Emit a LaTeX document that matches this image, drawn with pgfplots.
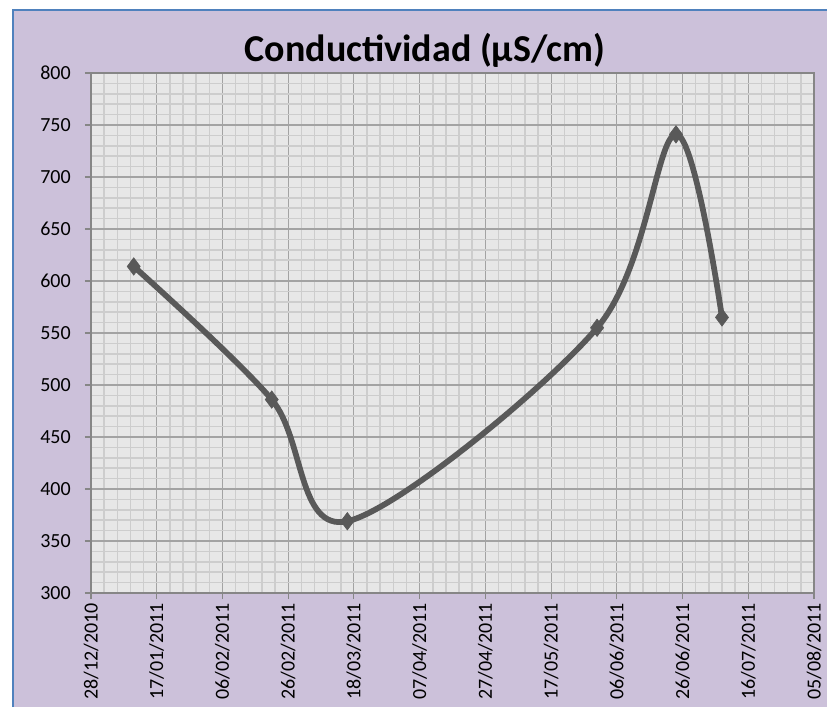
\documentclass[border=0pt]{standalone}
\usepackage{pgfplots}
\pgfplotsset{compat=1.18}
\usepackage{fontspec}
\setmainfont{Carlito}
\definecolor{lav}{HTML}{CCC1DA}
\definecolor{plotbg}{HTML}{E7E7E7}
\definecolor{minorg}{HTML}{CDCDCD}
\definecolor{majorg}{HTML}{A3A3A3}
\definecolor{axisg}{HTML}{868686}
\definecolor{serie}{HTML}{595959}
\definecolor{bord}{HTML}{4F81BD}
\begin{document}
\begin{tikzpicture}
% page: 827 x 707 px at 0.75pt per px
\path[use as bounding box] (0pt,0pt) rectangle (620.25pt,530.25pt);
\fill[white] (0pt,0pt) rectangle (620.25pt,530.25pt);
\fill[lav] (10.5pt,0pt) rectangle (620.25pt,522pt);
\draw[bord,line width=1.5pt] (9.75pt,0pt) -- (9.75pt,522.75pt) -- (620.25pt,522.75pt);
\node[font=\bfseries\fontsize{28.5}{32}\selectfont,anchor=base,inner sep=0pt] at (318.75pt,483.75pt) {Conductividad (µS/cm)};
\begin{axis}[
  at={(68.25pt,85.5pt)}, anchor=south west,
  width=542.25pt, height=390pt, scale only axis,
  xmin=0, xmax=220, ymin=300, ymax=800,
  xtick={0,20,...,220},
  xticklabels={28/12/2010,17/01/2011,06/02/2011,26/02/2011,18/03/2011,07/04/2011,27/04/2011,17/05/2011,06/06/2011,26/06/2011,16/07/2011,05/08/2011},
  ytick={300,350,...,800},
  minor x tick num=4, minor y tick num=4,
  grid=both,
  major grid style={majorg, line width=0.8pt},
  minor grid style={minorg, line width=1.1pt},
  axis background/.style={fill=plotbg},
  axis line style={axisg, line width=0.8pt},
  tick style={axisg, line width=0.8pt},
  major tick length=4.5pt, minor tick length=0pt,
  tick align=outside,
  xtick pos=bottom, ytick pos=left,
  x tick label style={rotate=90, anchor=east, inner sep=0pt, font=\fontsize{15}{17}\selectfont, xshift=-3pt},
  y tick label style={inner sep=0pt, font=\fontsize{15}{17}\selectfont, xshift=-10.5pt},
  /pgf/number format/assume math mode=true,
  yticklabel={\pgfmathprintnumber[fixed,precision=0]{\tick}},
  clip=false,
]
\addplot[serie, line width=4.3pt, smooth, tension=0.55, mark=diamond*, mark size=6.5pt,
  mark options={fill=serie, draw=serie, line width=0.5pt}]
  coordinates {(13,614) (55,486) (78,369) (154,555) (178,741) (192,565)};
\end{axis}
\end{tikzpicture}
\end{document}
